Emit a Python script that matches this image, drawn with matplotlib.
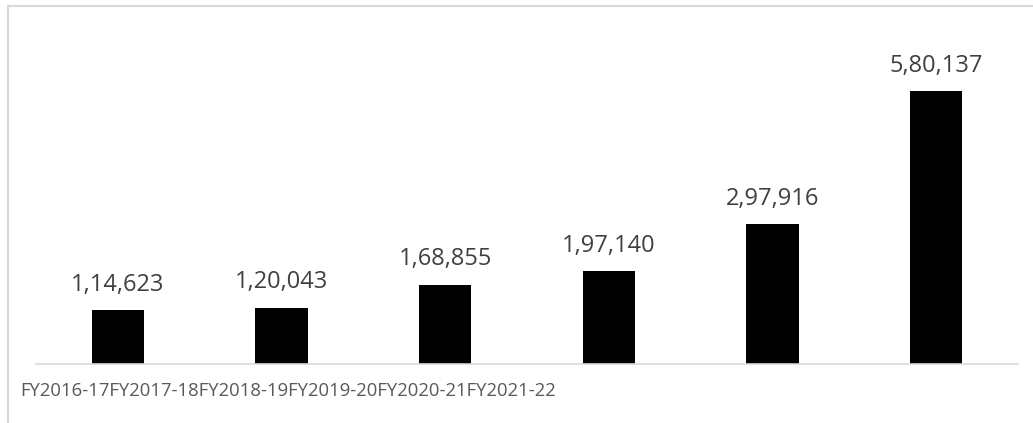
import matplotlib.pyplot as plt
from matplotlib.lines import Line2D

# data
years = ['FY2016-17', 'FY2017-18', 'FY2018-19', 'FY2019-20', 'FY2020-21', 'FY2021-22']
values = [114623, 120043, 168855, 197140, 297916, 580137]
labels = ['1,14,623', '1,20,043', '1,68,855', '1,97,140', '2,97,916', '5,80,137']

plt.rcParams['font.family'] = ['Open Sans', 'DejaVu Sans']

W, H = 1033, 423
fig = plt.figure(figsize=(W / 100, H / 100), dpi=100)
ax = fig.add_axes([36 / W, 1 - 364 / H, (1018 - 36) / W, (364 - 34.6) / H])

x = range(len(values))
bars = ax.bar(x, values, width=0.32, color='black')
ax.set_xlim(-0.5, len(values) - 0.5)
ax.set_ylim(0, 700000)

for bar, lab in zip(bars, labels):
    ax.annotate(lab, (bar.get_x() + bar.get_width() / 2, bar.get_height()),
                xytext=(0, 9.5), textcoords='offset points',
                ha='center', va='bottom', fontsize=17, color='#404040')

# axis styling
for s in ['top', 'right', 'left']:
    ax.spines[s].set_visible(False)
ax.spines['bottom'].set_color('#d9d9d9')
ax.spines['bottom'].set_linewidth(1.2)
ax.set_yticks([])
ax.set_xticks([])

# category labels run together, as in the source
fig.text(20 / W, 1 - 391 / H, ''.join(years), ha='left', va='center',
         fontsize=13.3, color='#595959')

# chart frame (top and left edges only)
fig.add_artist(Line2D([8 / W, 1], [1 - 6 / H, 1 - 6 / H], color='#d9d9d9', lw=1.5))
fig.add_artist(Line2D([8 / W, 8 / W], [0, 1 - 6 / H], color='#d9d9d9', lw=1.5))

fig.savefig('out.png', dpi=100)
